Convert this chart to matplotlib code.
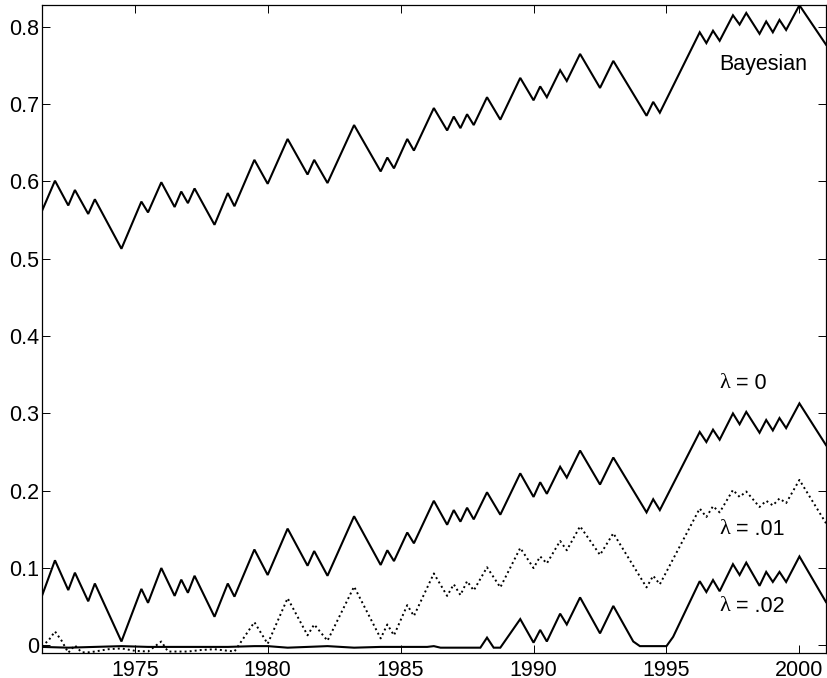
import matplotlib
matplotlib.use("Agg")
import matplotlib.pyplot as plt

plt.rcParams['font.family'] = ['Liberation Sans', 'DejaVu Sans']

# ---- data (vertex years and values) ----
bayes_years = [1971.5, 1972.0, 1972.5, 1972.75, 1973.25, 1973.5, 1974.5, 1975.25, 1975.5, 1976.0,
               1976.5, 1976.75, 1977.0, 1977.25, 1978.0, 1978.5, 1978.75, 1979.5, 1980.0, 1980.75,
               1981.5, 1981.75, 1982.25, 1983.25, 1984.25, 1984.5, 1984.75, 1985.25, 1985.5, 1986.25,
               1986.75, 1987.0, 1987.25, 1987.5, 1987.75, 1988.25, 1988.75, 1989.5, 1990.0, 1990.25,
               1990.5, 1991.0, 1991.25, 1991.75, 1992.5, 1993.0, 1994.25, 1994.5, 1994.75, 1996.25,
               1996.5, 1996.75, 1997.0, 1997.5, 1997.75, 1998.0, 1998.5, 1998.75, 1999.0, 1999.25,
               1999.5, 2000.0, 2001.0]
bayes_vals = [0.561, 0.601, 0.569, 0.589, 0.558, 0.577, 0.513, 0.574, 0.560, 0.599,
              0.567, 0.587, 0.572, 0.591, 0.544, 0.585, 0.568, 0.628, 0.597, 0.655,
              0.609, 0.628, 0.598, 0.673, 0.613, 0.631, 0.617, 0.655, 0.640, 0.695,
              0.666, 0.684, 0.669, 0.687, 0.673, 0.709, 0.680, 0.734, 0.705, 0.723,
              0.709, 0.744, 0.730, 0.765, 0.721, 0.756, 0.685, 0.703, 0.689, 0.793,
              0.779, 0.795, 0.782, 0.815, 0.803, 0.818, 0.791, 0.807, 0.793, 0.809,
              0.796, 0.828, 0.777]

lam0_years = bayes_years
lam0_vals = [0.063, 0.110, 0.0715, 0.094, 0.057, 0.080, 0.005, 0.073, 0.055, 0.100,
             0.064, 0.085, 0.068, 0.090, 0.037, 0.080, 0.063, 0.124, 0.091, 0.151,
             0.103, 0.122, 0.090, 0.167, 0.104, 0.123, 0.109, 0.146, 0.132, 0.187,
             0.156, 0.175, 0.160, 0.178, 0.163, 0.198, 0.169, 0.2225, 0.192, 0.211,
             0.196, 0.231, 0.217, 0.252, 0.208, 0.243, 0.172, 0.189, 0.175, 0.276,
             0.263, 0.279, 0.266, 0.300, 0.286, 0.302, 0.275, 0.2915, 0.278, 0.294,
             0.281, 0.313, 0.259]

lam01_years = [1971.5, 1971.75, 1972.0, 1972.25, 1972.5, 1972.75, 1973.0, 1973.25, 1973.5, 1974.0,
               1974.5, 1975.0, 1975.5, 1976.0, 1976.25, 1977.0, 1977.5, 1978.0, 1978.5, 1978.75,
               1979.5, 1980.0, 1980.75, 1981.5, 1981.75, 1982.25, 1983.25, 1984.25, 1984.5, 1984.75,
               1985.25, 1985.5, 1986.25, 1986.75, 1987.0, 1987.25, 1987.5, 1987.75, 1988.25, 1988.75,
               1989.5, 1990.0, 1990.25, 1990.5, 1991.0, 1991.25, 1991.75, 1992.5, 1993.0, 1994.25,
               1994.5, 1994.75, 1996.25, 1996.5, 1996.75, 1997.0, 1997.5, 1997.75, 1998.0, 1998.5,
               1998.75, 1999.0, 1999.25, 1999.5, 2000.0, 2001.0]
lam01_vals = [-0.001, 0.006, 0.018, 0.006, -0.0095, 0.000, -0.009, -0.009, -0.008, -0.005,
              -0.004, -0.007, -0.008, 0.005, -0.008, -0.008, -0.006, -0.005, -0.007, -0.008,
              0.030, 0.002, 0.061, 0.013, 0.027, 0.006, 0.076, 0.009, 0.027, 0.013,
              0.052, 0.038, 0.093, 0.064, 0.079, 0.065, 0.083, 0.071, 0.101, 0.075,
              0.126, 0.100, 0.115, 0.106, 0.135, 0.123, 0.154, 0.117, 0.145, 0.075,
              0.090, 0.079, 0.177, 0.166, 0.180, 0.172, 0.201, 0.192, 0.199, 0.179,
              0.187, 0.181, 0.190, 0.184, 0.214, 0.158]

lam02_years = [1971.5, 1972.5, 1973.5, 1974.5, 1975.5, 1976.5, 1977.5, 1978.5, 1979.5, 1980.0,
               1980.75, 1981.5, 1982.25, 1983.25, 1984.25, 1985.25, 1986.0, 1986.25, 1986.5, 1987.5,
               1988.0, 1988.25, 1988.5, 1988.75, 1989.5, 1990.0, 1990.25, 1990.5, 1991.0, 1991.25,
               1991.75, 1992.5, 1993.0, 1993.75, 1994.0, 1995.0, 1995.25, 1996.25, 1996.5, 1996.75,
               1997.0, 1997.5, 1997.75, 1998.0, 1998.5, 1998.75, 1999.0, 1999.25, 1999.5, 2000.0,
               2001.0]
lam02_vals = [-0.002, -0.003, -0.002, -0.001, -0.002, -0.002, -0.002, -0.002, -0.001, -0.001,
              -0.003, -0.002, -0.001, -0.003, -0.002, -0.002, -0.002, -0.001, -0.003, -0.003,
              -0.003, 0.010, -0.003, -0.003, 0.034, 0.0035, 0.020, 0.005, 0.041, 0.027,
              0.062, 0.0155, 0.051, 0.005, -0.001, -0.001, 0.011, 0.083, 0.069, 0.0845,
              0.070, 0.105, 0.091, 0.107, 0.077, 0.095, 0.082, 0.095, 0.082, 0.115,
              0.056]

x_ticks = [1975, 1980, 1985, 1990, 1995, 2000]
y_ticks = [0, 0.1, 0.2, 0.3, 0.4, 0.5, 0.6, 0.7, 0.8]
y_ticklabels = ['0', '0.1', '0.2', '0.3', '0.4', '0.5', '0.6', '0.7', '0.8']

labels = [("Bayesian", None, 1997.0, 0.751),
          ("\u03bb", " = 0", 1997.0, 0.339),
          ("\u03bb", " = .01", 1997.0, 0.150),
          ("\u03bb", " = .02", 1997.0, 0.050)]

# ---- figure ----
fig = plt.figure(figsize=(8.27, 6.78), dpi=100)
ax = fig.add_axes([0.0504, 0.0364, 0.9484, 0.9567])

lw = 1.5
ax.plot(bayes_years, bayes_vals, color='black', lw=lw, solid_joinstyle='miter')
ax.plot(lam0_years, lam0_vals, color='black', lw=lw, solid_joinstyle='miter')
ax.plot(lam01_years, lam01_vals, color='black', lw=1.4, linestyle=(0, (1, 1.6)))
ax.plot(lam02_years, lam02_vals, color='black', lw=lw, solid_joinstyle='miter')

ax.set_xlim(1971.5, 2001.0)
ax.set_ylim(-0.0103, 0.8287)
ax.set_xticks(x_ticks)
ax.set_yticks(y_ticks)
ax.set_yticklabels(y_ticklabels)
ax.tick_params(direction='in', length=5.5, width=0.7, top=True, right=True,
               labelsize=15.5, pad=2)
ax.tick_params(axis='x', pad=5)
for s in ax.spines.values():
    s.set_linewidth(0.9)

for main, rest, x, y in labels:
    if rest is None:
        ax.text(x, y, main, fontsize=15.5, va='center', ha='left')
    else:
        t = ax.text(x, y, main, fontsize=16, va='center', ha='left',
                    family=['Liberation Serif', 'DejaVu Serif'])
        ax.annotate(rest, xy=(1, 0.5), xycoords=t, fontsize=15.5,
                    va='center', ha='left')

fig.savefig('out.png', dpi=100)
